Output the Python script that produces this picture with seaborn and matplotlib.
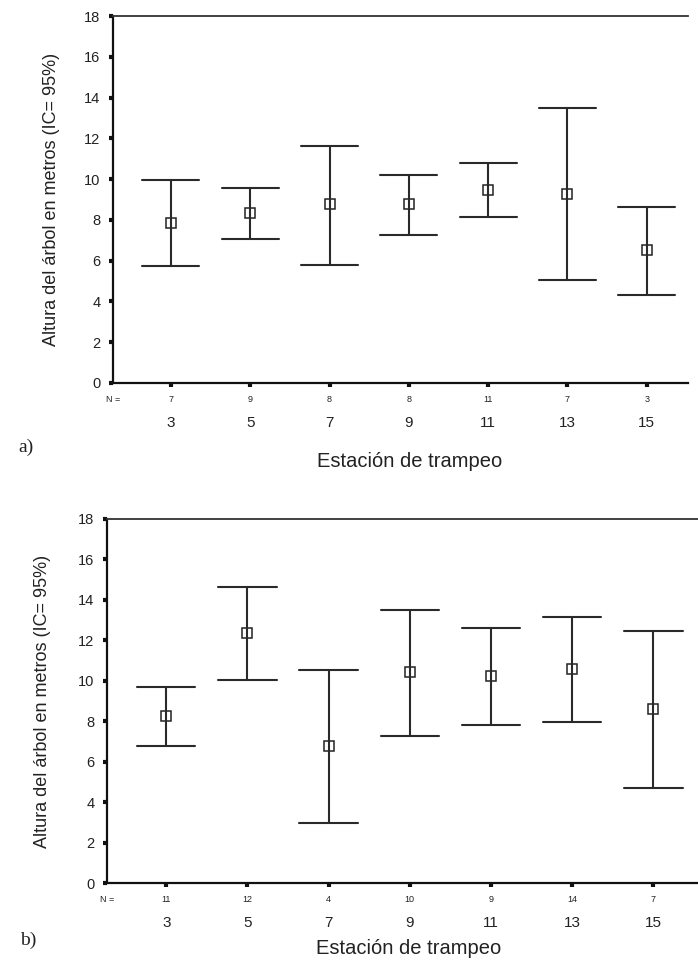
import numpy as np
import pandas as pd
import seaborn as sns
import matplotlib
matplotlib.use("Agg")
import matplotlib.pyplot as plt
from matplotlib.transforms import blended_transform_factory

# ---------------- data ----------------
stations = ['3', '5', '7', '9', '11', '13', '15']

a_mean = [7.83, 8.32, 8.76, 8.78, 9.47, 9.27, 6.51]
a_low = [5.75, 7.08, 5.80, 7.26, 8.14, 5.07, 4.32]
a_high = [9.96, 9.58, 11.64, 10.22, 10.77, 13.47, 8.63]
a_n = [7, 9, 8, 8, 11, 7, 3]

b_mean = [8.27, 12.36, 6.78, 10.42, 10.22, 10.60, 8.59]
b_low = [6.78, 10.04, 2.98, 7.29, 7.83, 7.95, 4.70]
b_high = [9.71, 14.64, 10.55, 13.50, 12.61, 13.17, 12.48]
b_n = [11, 12, 4, 10, 9, 14, 7]

y_ticks = [0, 2, 4, 6, 8, 10, 12, 14, 16, 18]
ylabel = "Altura del árbol en metros (IC= 95%)"
xlabel = "Estación de trampeo"


def long_table(means, lows, highs):
    rows = []
    for s, m, lo, hi in zip(stations, means, lows, highs):
        for v in (lo, m, hi):
            rows.append({"Estación": s, "Altura": v})
    return pd.DataFrame(rows)


sns.set_style("ticks")
plt.rcParams['font.family'] = ['Liberation Sans', 'DejaVu Sans']
plt.rcParams['text.color'] = '#222222'

W, H = 698, 972
fig = plt.figure(figsize=(W / 100, H / 100), dpi=100)


def px_axes(left, right, top, bottom):
    return fig.add_axes([left / W, 1 - bottom / H, (right - left) / W, (bottom - top) / H])


def draw_panel(ax, means, lows, highs, ns, xlim, ylab_x, xlab_xy):
    df = long_table(means, lows, highs)
    sns.pointplot(data=df, x="Estación", y="Altura", order=stations, ax=ax,
                  estimator="median", errorbar=lambda v: (v.min(), v.max()),
                  linestyle="none", marker="s", markersize=7,
                  markerfacecolor="none", markeredgecolor="#222222", markeredgewidth=1.1,
                  color="#2a2a2a", capsize=0.72,
                  err_kws={"linewidth": 1.5, "color": "#2a2a2a"})
    ax.set_xlim(*xlim)
    ax.set_ylim(0, 18)
    ax.set_yticks(y_ticks)
    ax.set_yticklabels([str(t) for t in y_ticks])
    for side in ("left", "bottom"):
        ax.spines[side].set_linewidth(1.6)
        ax.spines[side].set_color("#111111")
    ax.spines["top"].set_linewidth(1.3)
    ax.spines["top"].set_color("#333333")
    ax.spines["right"].set_visible(False)
    ax.tick_params(axis="y", direction="out", length=3, width=3, color="#111111",
                   labelsize=10.5, pad=6, labelcolor="#222222")
    ax.tick_params(axis="x", direction="out", length=3, width=3, color="#111111",
                   labelsize=11, pad=21, labelcolor="#222222")
    ax.set_ylabel(ylabel, fontsize=13, color="#222222")
    ax.yaxis.set_label_coords(ylab_x, 0.5)
    ax.set_xlabel(xlabel, fontsize=14.5, color="#222222")
    ax.xaxis.label.set_va("baseline")
    ax.xaxis.set_label_coords(*xlab_xy)
    tr = blended_transform_factory(ax.transData, ax.transAxes)
    for i, n in enumerate(ns):
        ax.text(i, -0.045, str(n), transform=tr, ha="center", va="center",
                fontsize=6.5, color="#222222")
    ax.text(0.0, -0.045, "N =", transform=ax.transAxes, ha="center", va="center",
            fontsize=6.5, color="#222222")


ax1 = px_axes(113, 688, 16, 383)
draw_panel(ax1, a_mean, a_low, a_high, a_n, (-0.73, 6.52), -0.092, (0.516, -0.229))

ax2 = px_axes(107, 698, 519, 883)
draw_panel(ax2, b_mean, b_low, b_high, b_n, (-0.73, 6.55), -0.095, (0.511, -0.195))

fig.text(18 / W, 1 - 447 / H, "a)", fontsize=14, family="Liberation Serif",
         ha="left", va="center", color="#222222")
fig.text(20 / W, 1 - 940 / H, "b)", fontsize=14, family="Liberation Serif",
         ha="left", va="center", color="#222222")

fig.savefig("out.png", dpi=100)
